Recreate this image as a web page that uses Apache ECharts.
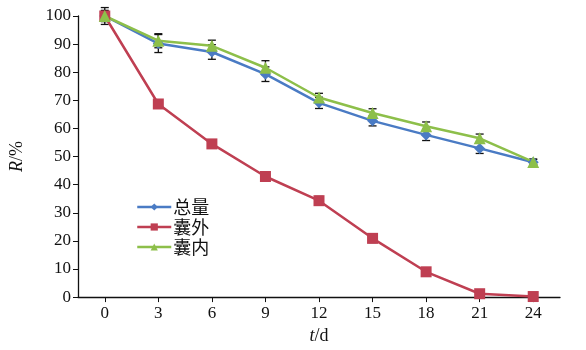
<!DOCTYPE html>
<html><head><meta charset="utf-8">
<script src="https://cdn.jsdelivr.net/npm/echarts@6/dist/echarts.min.js"></script>
<style>html,body{margin:0;padding:0;background:#fff}#c{width:586px;height:350px}</style>
</head><body><div id="c"></div>
<script>
const categories = ['0','3','6','9','12','15','18','21','24'];
const seriesNames = ['总量','囊外','囊内'];
const totalVals = [100, 90.2, 87.2, 79.3, 69.1, 62.7, 57.7, 52.9, 48.0];
const outerVals = [100, 68.7, 54.5, 42.9, 34.3, 20.9, 9.0, 1.2, 0.2];
const innerVals = [100, 91.2, 89.4, 81.6, 71.0, 65.5, 60.8, 56.5, 48.1];
const totalErr = [3, 3.2, 2.6, 2.6, 2, 1.8, 2, 1.8, 1];
const outerErr = [1.5, 1, 0.5, 0.5, 1.5, 1.5, 0.5, 0.5, 0.5];
const innerErr = [2, 2.5, 2, 2.5, 1.5, 1.5, 1.5, 1.5, 1];
const yTicks = [0,10,20,30,40,50,60,70,80,90,100];

const colors = ['#4a7bc4', '#bf3f52', '#8dbf4a'];
const serif = '"Liberation Serif","DejaVu Serif",serif';

function errData(vals, errs){ return vals.map((v,i)=>[i, v-errs[i], v+errs[i]]); }
function errSeries(vals, errs, z){
  return {
    type:'custom', z:z, silent:true,
    data: errData(vals, errs),
    renderItem: function(params, api){
      const x = api.value(0);
      const lo = api.coord([x, api.value(1)]);
      const hi = api.coord([x, api.value(2)]);
      const w = 4;
      const st = {stroke:'#111', lineWidth:1.3};
      return {type:'group', children:[
        {type:'line', shape:{x1:lo[0],y1:lo[1],x2:hi[0],y2:hi[1]}, style:st},
        {type:'line', shape:{x1:lo[0]-w,y1:lo[1],x2:lo[0]+w,y2:lo[1]}, style:st},
        {type:'line', shape:{x1:hi[0]-w,y1:hi[1],x2:hi[0]+w,y2:hi[1]}, style:st}
      ]};
    }
  };
}
function lineSeries(name, vals, color, symbol, size){
  return {name:name, type:'line', data:vals, symbol:symbol, symbolSize:size,
    showSymbol:true, lineStyle:{color:color, width:2.5}, itemStyle:{color:color},
    z:3};
}

const chart = echarts.init(document.getElementById('c'), null, {renderer:'canvas'});
chart.setOption({
  animation:false,
  backgroundColor:'#fff',
  grid:{left:77, right:26, top:16, bottom:48, containLabel:false},
  legend:{
    orient:'vertical', left:131, top:193, itemGap:2, itemWidth:34, itemHeight:9,
    data: seriesNames,
    lineStyle:{width:2.5},
    textStyle:{fontFamily:'"Noto Sans CJK SC",serif', fontSize:18, color:'#111', padding:[0,0,0,-3]}
  },
  xAxis:{
    type:'category', data:categories, boundaryGap:true,
    name:'{i|t}{n|/d}', nameLocation:'middle', nameGap:29,
    nameTextStyle:{rich:{i:{fontFamily:serif, fontStyle:'italic', fontSize:18, color:'#111'}, n:{fontFamily:serif, fontSize:18, color:'#111'}}},
    axisLine:{lineStyle:{color:'#111', width:1.3}},
    axisTick:{show:true, alignWithLabel:true, length:5, lineStyle:{color:'#111'}},
    axisLabel:{fontFamily:serif, fontSize:17, color:'#111', margin:8}
  },
  yAxis:{
    type:'value', min:0, max:100, interval:10,
    name:'{i|R}{n|/%}', nameLocation:'middle', nameGap:52, nameRotate:90,
    nameTextStyle:{rich:{i:{fontFamily:serif, fontStyle:'italic', fontSize:18, color:'#111'}, n:{fontFamily:serif, fontSize:18, color:'#111'}}},
    axisLine:{show:true, lineStyle:{color:'#111', width:1.3}},
    axisTick:{show:true, length:5, lineStyle:{color:'#111'}},
    axisLabel:{fontFamily:serif, fontSize:17, color:'#111', margin:7,
      formatter: v => yTicks.includes(v) ? String(v) : ''},
    splitLine:{show:false}
  },
  series:[
    errSeries(totalVals, totalErr, 2),
    errSeries(outerVals, outerErr, 2),
    errSeries(innerVals, innerErr, 2),
    lineSeries(seriesNames[0], totalVals, colors[0], 'diamond', 11),
    lineSeries(seriesNames[1], outerVals, colors[1], 'rect', 11),
    lineSeries(seriesNames[2], innerVals, colors[2], 'triangle', 12)
  ]
});
</script></body></html>
